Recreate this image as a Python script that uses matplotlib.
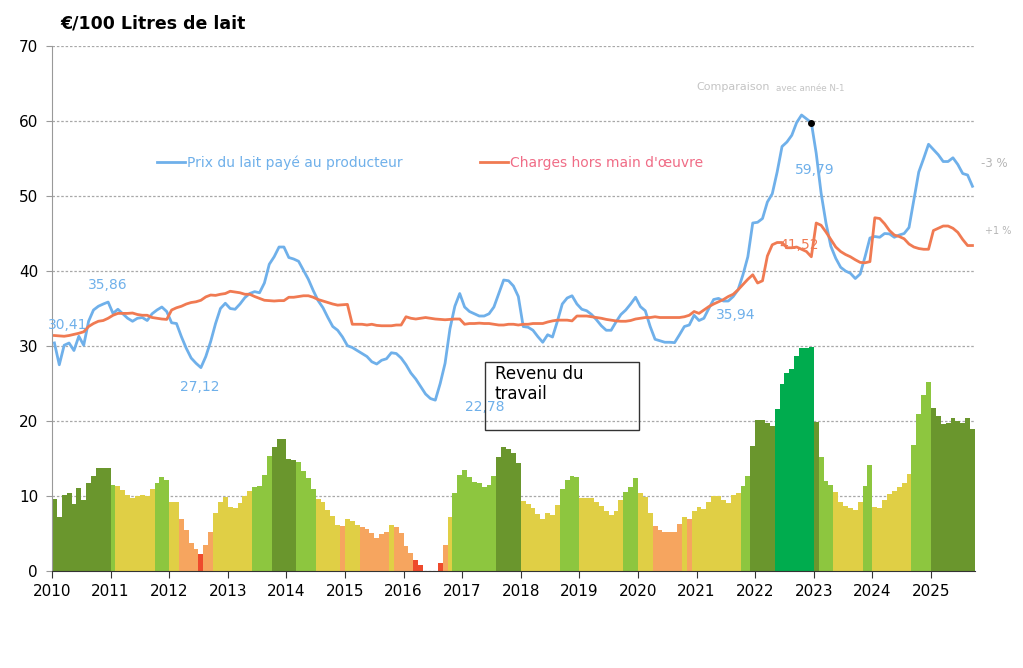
import numpy as np
import matplotlib.pyplot as plt
from matplotlib.lines import Line2D
from matplotlib.patches import Rectangle

plt.rcParams['font.family'] = ['DejaVu Sans']

# monthly series, Jan 2010 -> Sep 2025
prix = [30.41, 27.5, 30.1, 30.4, 29.4, 31.3, 30.1, 33.3, 34.8, 35.3, 35.6, 35.86,
        34.35, 34.9, 34.3, 33.7, 33.3, 33.7, 33.8, 33.4, 34.3, 34.8, 35.2, 34.6,
        33.1, 33.0, 31.25, 29.7, 28.4, 27.7, 27.12, 28.6, 30.6, 33.0, 35.0, 35.7,
        35.0, 34.9, 35.6, 36.45, 37.0, 37.25, 37.1, 38.4, 40.9, 41.9, 43.2, 43.2,
        41.8, 41.6, 41.3, 40.1, 38.9, 37.4, 36.05, 35.1, 33.8, 32.6, 32.1, 31.2,
        30.05, 29.8, 29.4, 29.0, 28.6, 27.9, 27.6, 28.1, 28.3, 29.1, 29.0, 28.4,
        27.5, 26.4, 25.6, 24.6, 23.6, 23.0, 22.78, 25.0, 27.7, 32.3, 35.3, 37.0,
        35.2, 34.6, 34.3, 34.0, 34.0, 34.3, 35.2, 37.0, 38.8, 38.7, 38.0, 36.6,
        32.6, 32.5, 32.1, 31.25, 30.5, 31.5, 31.2, 33.3, 35.6, 36.4, 36.7, 35.6,
        34.9, 34.7, 34.2, 33.5, 32.7, 32.1, 32.1, 33.2, 34.2, 34.8, 35.6, 36.5,
        35.25, 34.7, 32.6, 30.9, 30.7, 30.5, 30.5, 30.45, 31.5, 32.6, 32.8, 34.1,
        33.4, 33.7, 35.0, 36.2, 36.35, 36.0, 36.0, 36.6, 37.5, 39.5, 41.9, 46.4,
        46.5, 47.0, 49.2, 50.3, 53.2, 56.6, 57.2, 58.1, 59.8, 60.8, 60.3, 59.79,
        55.7, 50.4, 46.4, 43.3, 41.7, 40.5, 40.0, 39.7, 39.0, 39.6, 41.9, 44.4,
        44.6, 44.5, 45.0, 44.95, 44.5, 44.8, 45.0, 45.8, 49.5, 53.2, 55.0, 56.9,
        56.2, 55.5, 54.6, 54.6, 55.1, 54.2, 53.0, 52.8, 51.3]

charges = [31.4, 31.35, 31.3, 31.4, 31.55, 31.7, 31.9, 32.6, 33.0, 33.3, 33.4, 33.7,
           34.1, 34.35, 34.35, 34.35, 34.4, 34.2, 34.1, 34.1, 33.8, 33.7, 33.6, 33.55,
           34.8, 35.1, 35.3, 35.6, 35.8, 35.9, 36.1, 36.55, 36.8, 36.75, 36.9, 37.0,
           37.3, 37.2, 37.1, 36.9, 36.9, 36.6, 36.35, 36.1, 36.05, 36.0, 36.05, 36.05,
           36.5, 36.5, 36.6, 36.7, 36.7, 36.5, 36.2, 36.0, 35.8, 35.6, 35.45, 35.5,
           35.55, 32.9, 32.9, 32.9, 32.8, 32.9, 32.75, 32.7, 32.7, 32.7, 32.8, 32.8,
           33.9, 33.7, 33.6, 33.7, 33.8, 33.7, 33.6, 33.55, 33.5, 33.55, 33.6, 33.6,
           32.9, 33.0, 33.0, 33.05, 33.0, 33.0, 32.9, 32.8, 32.8, 32.9, 32.9, 32.8,
           32.9, 32.9, 33.0, 33.0, 33.0, 33.2, 33.35, 33.45, 33.45, 33.45, 33.35, 34.0,
           34.0, 34.0, 33.9, 33.8, 33.7, 33.55, 33.45, 33.35, 33.3, 33.3, 33.4, 33.6,
           33.7, 33.8, 33.8, 33.9, 33.8, 33.8, 33.8, 33.8, 33.8, 33.9, 34.1, 34.6,
           34.35, 34.8, 35.25, 35.6, 35.9, 36.2, 36.6, 36.9, 37.5, 38.2, 38.9, 39.5,
           38.4, 38.7, 42.0, 43.5, 43.8, 43.8, 43.1, 43.1, 43.2, 42.9, 42.6, 41.9,
           46.4, 46.1, 45.2, 44.2, 43.2, 42.6, 42.2, 41.9, 41.5, 41.15, 41.1, 41.25,
           47.1, 47.0, 46.3, 45.4, 44.8, 44.6, 44.3, 43.6, 43.2, 43.0, 42.9, 42.9,
           45.4, 45.7, 46.0, 46.0, 45.7, 45.15, 44.2, 43.4, 43.4]

revenu = [9.55, 7.25, 10.1, 10.35, 9.0, 11.1, 9.45, 11.7, 12.7, 13.7, 13.8, 13.7,
          11.47, 11.33, 10.8, 10.13, 9.8, 10.0, 10.13, 10.05, 10.9, 11.8, 12.5, 12.2,
          9.25, 9.25, 7.0, 5.47, 3.7, 2.93, 2.27, 3.47, 5.25, 7.7, 9.25, 9.9,
          8.5, 8.45, 9.1, 10.05, 10.7, 11.25, 11.4, 12.8, 15.3, 16.6, 17.6, 17.65,
          14.9, 14.8, 14.5, 13.33, 12.35, 10.93, 9.65, 9.15, 8.2, 7.33, 6.2, 6.05,
          6.9, 6.67, 6.13, 5.9, 5.6, 5.1, 4.35, 4.93, 5.25, 6.13, 5.9, 5.1,
          3.4, 2.45, 1.5, 0.75, 0, 0, 0, 1.1, 3.47, 7.25, 10.4, 12.8,
          13.47, 12.5, 11.9, 11.7, 11.25, 11.47, 12.67, 15.25, 16.5, 16.3, 15.8, 14.35,
          9.4, 9.0, 8.35, 7.55, 6.9, 7.7, 7.47, 8.8, 10.9, 12.1, 12.7, 12.6,
          9.8, 9.7, 9.7, 9.2, 8.67, 8.05, 7.47, 8.05, 9.47, 10.5, 11.25, 12.45,
          10.45, 9.9, 7.8, 6.0, 5.47, 5.25, 5.25, 5.2, 6.27, 7.25, 7.0, 8.05,
          8.5, 8.27, 9.15, 10.05, 10.05, 9.47, 9.1, 10.13, 10.45, 11.4, 12.67, 16.7,
          20.13, 20.2, 19.7, 19.4, 21.6, 25.0, 26.35, 27.0, 28.67, 29.7, 29.75, 29.9,
          19.9, 15.15, 12.0, 11.47, 10.6, 9.25, 8.67, 8.45, 8.13, 9.25, 11.33, 14.2,
          8.5, 8.35, 9.47, 10.27, 10.7, 11.15, 11.7, 13.0, 16.8, 21.0, 23.47, 25.2,
          21.73, 20.7, 19.6, 19.7, 20.35, 20.0, 19.8, 20.45, 19.0]

# colour class of each revenue bar, one string per year
classes = ['DDDDDDDDDDDD', 'LYYYYYYYYLLL', 'YYOOOOROOYYY',
           'YYYYYLLLLDDD', 'DDLLLLYYYYYO', 'YYYOOOOOOYOO', 'OORRRRRROYLL',
           'LLLLLLLDDDDD', 'YYYYYYYYLLLL', 'YYYYYYYYYLLL', 'YYYOOOOOOYOY',
           'YYYYYYYYYLLD', 'DDDDBBBBBBBB', 'DLLLYYYYYYLL', 'YYYYYYYYLLLL',
           'DDDDDDDDD']
palette = {'D': '#6a962d', 'L': '#8dc63f', 'Y': '#e0cf45', 'O': '#f6a55f',
           'R': '#ee4a2c', 'B': '#00ac4e'}

years = list(range(2010, 2026))
# month index -> label, and where the label sits (x in years, y in €)
labels_prix = {0: '30,41', 11: '35,86', 30: '27,12', 78: '22,78', 140: '35,94', 155: '59,79'}
label_pos = {0: (2010.27, 32.8), 11: (2010.95, 38.1), 30: (2012.53, 24.5), 78: (2017.39, 21.9),
             140: (2021.66, 34.1), 155: (2023.02, 53.5)}

n = len(prix)
start = 2010 + np.arange(n) / 12
mid = start + 1 / 24
bar_colors = [palette[c] for c in ''.join(classes)]

blue = '#6fb0ea'
orange = '#f07a52'
grey = '#b5b5b5'

fig = plt.figure(figsize=(10.23, 6.68), dpi=100)
ax = fig.add_axes([0.0508, 0.1452, 0.9022, 0.7859])

ax.bar(start, revenu, width=1 / 12, align='edge', color=bar_colors, linewidth=0, zorder=2)
ax.plot(mid, prix, color=blue, lw=2, zorder=3)
ax.plot(mid, charges, color=orange, lw=2, zorder=3)
ax.plot(mid[155], prix[155], 'o', color='black', ms=4, zorder=4)

ax.set_xlim(2010, 2025.75)
ax.set_ylim(0, 70)
ax.set_yticks(range(0, 80, 10))
ax.set_xticks(years)
ax.set_xticklabels([str(y) for y in years])
ax.yaxis.grid(True, color='#a8a8a8', linestyle=(0, (2, 1.5)), linewidth=0.9, zorder=0)
ax.set_axisbelow(True)
for s in ['top', 'right']:
    ax.spines[s].set_visible(False)
ax.spines['left'].set_color('#999999')
ax.spines['bottom'].set_color('#333333')
ax.tick_params(axis='x', direction='out', length=5, color='#333333', labelsize=11, pad=4)
ax.tick_params(axis='y', direction='out', length=4, color='#999999', labelsize=11, pad=6)

fig.text(0.059, 0.978, '€/100 Litres de lait', fontsize=12.5, fontweight='bold', va='top', ha='left')

# legend
handles = [Line2D([], [], color=blue, lw=2), Line2D([], [], color=orange, lw=2)]
leg = ax.legend(handles, ['Prix du lait payé au producteur', "Charges hors main d'œuvre"],
                ncol=2, frameon=False, loc='upper left', bbox_to_anchor=(0.108, 0.802),
                fontsize=10, handlelength=2.0, handletextpad=0.15, columnspacing=5.6,
                borderaxespad=0)
leg.get_texts()[0].set_color(blue)
leg.get_texts()[1].set_color('#f06c86')

# value labels
for m, txt in labels_prix.items():
    x, y = label_pos[m]
    ax.text(x, y, txt, color=blue, fontsize=10, ha='center', va='center')
ax.text(2022.75, 43.5, '41,52', color=orange, fontsize=10, ha='center', va='center')

ax.text(2026.08, 54.3, '-3 %', color=grey, fontsize=8.5, ha='center', va='center', clip_on=False)
ax.text(2026.14, 45.3, '+1 %', color=grey, fontsize=7, ha='center', va='center', clip_on=False)
ax.text(2021.0, 64.5, 'Comparaison', color='#c4c4c4', fontsize=8, ha='left', va='center')
ax.text(2022.36, 64.4, 'avec année N-1', color='#c4c4c4', fontsize=6.3, ha='left', va='center')

# "Revenu du travail" box
ax.add_patch(Rectangle((2017.39, 18.8), 2.63, 9.07, fill=False, edgecolor='#333333', lw=1, zorder=5))
ax.text(2017.56, 27.5, 'Revenu du\ntravail', fontsize=12, va='top', ha='left', linespacing=1.15, zorder=5)

fig.savefig('out.png', dpi=100)
